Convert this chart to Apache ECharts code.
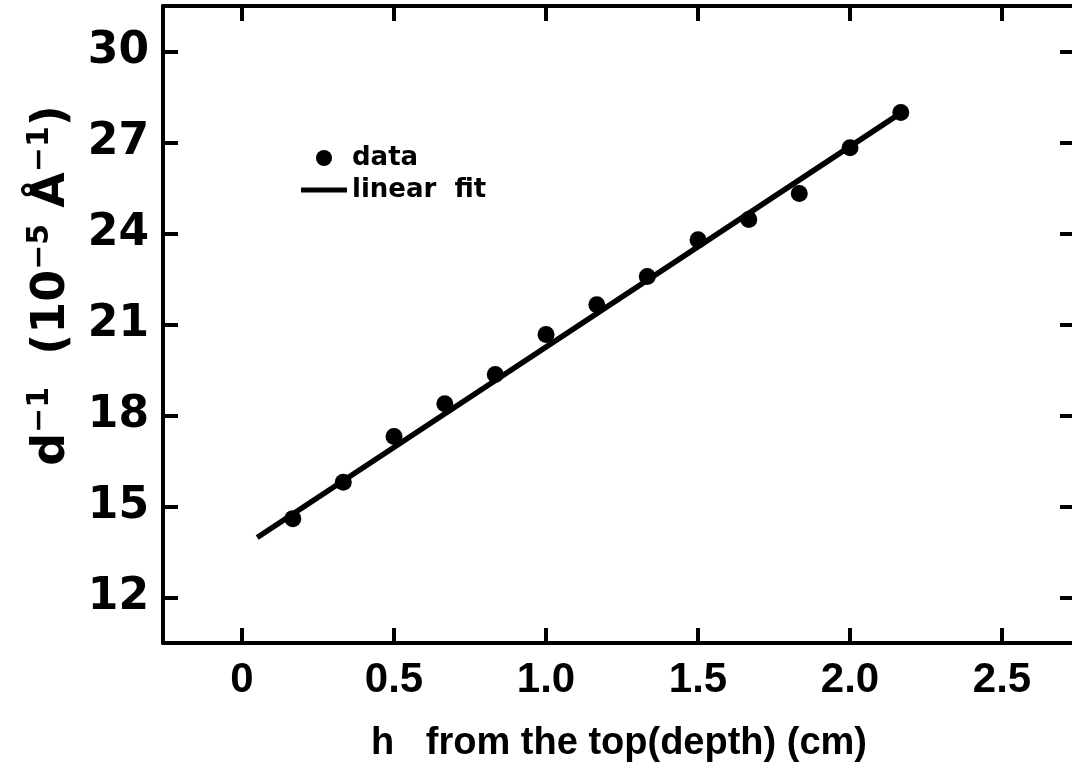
<!DOCTYPE html>
<html>
<head>
<meta charset="utf-8">
<script src="https://cdn.jsdelivr.net/npm/echarts@6/dist/echarts.min.js"></script>
<style>
  html, body { margin: 0; padding: 0; background: #fff; }
  #chart { width: 1072px; height: 779px; }
</style>
</head>
<body>
<div id="chart"></div>
<script>
// data
let depth = [0.167, 0.333, 0.5, 0.667, 0.833, 1.0, 1.167, 1.333, 1.5, 1.667, 1.833, 2.0, 2.167]
let invD = [14.60, 15.80, 17.31, 18.39, 19.35, 20.67, 21.65, 22.58, 23.79, 24.46, 25.32, 26.83, 27.99]
// linear fit ends
let fitX = [0.05, 2.18]
let fitY = [13.98, 28.06]
// tick labels
let xTickVals = [0, 0.5, 1.0, 1.5, 2.0, 2.5]
let xTickLabels = ['0', '0.5', '1.0', '1.5', '2.0', '2.5']

let chart = echarts.init(document.getElementById('chart'))

let pts = depth.map(function (x, i) { return [x, invD[i]] })
let fit = fitX.map(function (x, i) { return [x, fitY[i]] })

let labFont = 'DejaVu Sans'
let narrow = '"Liberation Sans", Arial, sans-serif'

function xLab(v) {
    for (let i = 0; i < xTickVals.length; i++) {
        if (Math.abs(v - xTickVals[i]) < 1e-6) return xTickLabels[i]
    }
    return ''
}

let frame = { show: true, onZero: false, lineStyle: { color: '#000', width: 4 } }
let ticks = { show: true, inside: true, length: 15, lineStyle: { color: '#000', width: 4 } }

let option = {
    animation: false,
    backgroundColor: '#fff',
    grid: { left: 163, top: 6, width: 912, height: 637, outerBoundsMode: 'none' },
    legend: {
        orient: 'vertical',
        left: 296,
        top: 140,
        itemWidth: 46,
        itemHeight: 16,
        itemGap: 6,
        textStyle: { fontFamily: labFont, fontWeight: 'bold', fontSize: 26, color: '#000' },
        data: [
            { name: 'data', icon: 'circle' },
            { name: 'linear  fit', icon: 'path://M0,0 L46,0 L46,5 L0,5 Z' }
        ]
    },
    xAxis: [{
        type: 'value',
        min: -0.26,
        max: 2.74,
        splitNumber: 6,
        position: 'bottom',
        axisLine: frame,
        axisTick: ticks,
        splitLine: { show: false },
        axisLabel: {
            margin: 16,
            showMinLabel: false,
            showMaxLabel: false,
            fontFamily: narrow,
            fontWeight: 'bold',
            fontSize: 42,
            color: '#000',
            formatter: xLab
        },
        name: 'h   from the top(depth) (cm)',
        nameLocation: 'middle',
        nameGap: 82,
        nameTextStyle: { fontFamily: narrow, fontWeight: 'bold', fontSize: 38, color: '#000' }
    }, {
        type: 'value',
        min: -0.26,
        max: 2.74,
        splitNumber: 6,
        position: 'top',
        axisLine: frame,
        axisTick: ticks,
        splitLine: { show: false },
        axisLabel: { show: false }
    }],
    yAxis: [{
        type: 'value',
        min: 10.5,
        max: 31.5,
        splitNumber: 7,
        position: 'left',
        axisLine: frame,
        axisTick: ticks,
        splitLine: { show: false },
        axisLabel: {
            margin: 14,
            showMinLabel: false,
            showMaxLabel: false,
            fontFamily: labFont,
            fontWeight: 'bold',
            fontSize: 44,
            color: '#000'
        },
        name: '{m|d}{s|−1}{m|  (10}{s|−5}{m| Å}{s|−1}{m|)}',
        nameLocation: 'middle',
        nameRotate: 90,
        nameGap: 84,
        nameTextStyle: {
            padding: [0, 0, 0, 78],
            rich: {
                m: { fontFamily: labFont, fontWeight: 'bold', fontSize: 46, color: '#000' },
                s: { fontFamily: labFont, fontWeight: 'bold', fontSize: 30, color: '#000', padding: [0, 0, 24, 0] }
            }
        }
    }, {
        type: 'value',
        min: 10.5,
        max: 31.5,
        splitNumber: 7,
        position: 'right',
        axisLine: frame,
        axisTick: ticks,
        splitLine: { show: false },
        axisLabel: { show: false }
    }],
    series: [{
        name: 'data',
        type: 'scatter',
        data: pts,
        symbol: 'circle',
        symbolSize: 17,
        itemStyle: { color: '#000', opacity: 1 },
        z: 3
    }, {
        name: 'linear  fit',
        type: 'line',
        data: fit,
        symbol: 'none',
        lineStyle: { color: '#000', width: 5.5 },
        itemStyle: { color: '#000' },
        z: 2
    }]
}

chart.setOption(option)
</script>
</body>
</html>
